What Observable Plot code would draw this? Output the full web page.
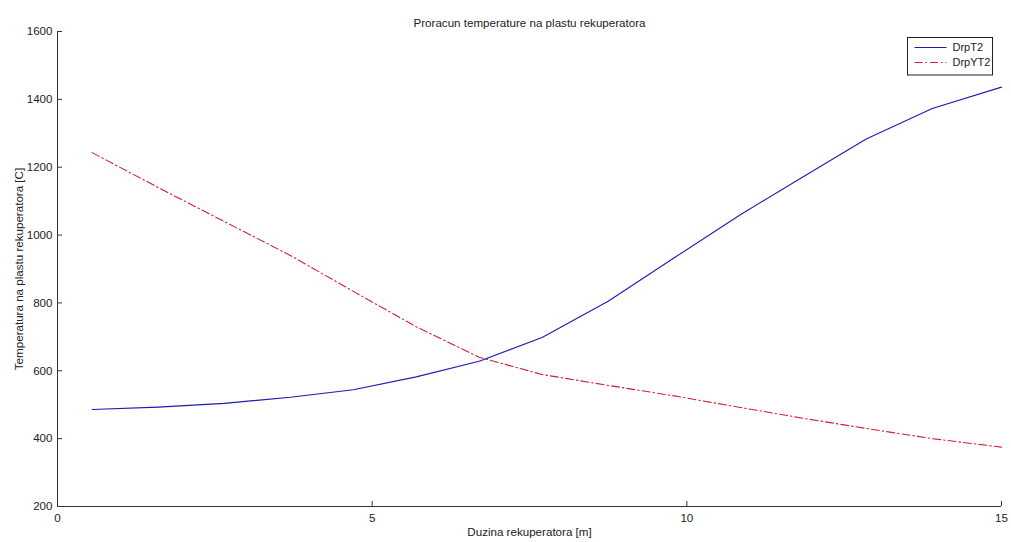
<!DOCTYPE html>
<html>
<head>
<meta charset="utf-8">
<script src="https://cdn.jsdelivr.net/npm/d3@7"></script>
<script src="https://cdn.jsdelivr.net/npm/@observablehq/plot@0.6"></script>
<style>
  html, body { margin: 0; padding: 0; background: #fff; }
  #chart svg { display: block; }
</style>
</head>
<body>
<div id="chart"></div>
<script>
const title = "Proracun temperature na plastu rekuperatora";
const xLabel = "Duzina rekuperatora [m]";
const yLabel = "Temperatura na plastu rekuperatora [C]";
const seriesNames = ["DrpT2", "DrpYT2"];
const xTicks = [0, 5, 10, 15];
const yTicks = [200, 400, 600, 800, 1000, 1200, 1400, 1600];

const lengthM = [0.55, 1.6, 2.65, 3.7, 4.7, 5.7, 6.7, 7.7, 8.75, 9.8, 10.85, 11.85, 12.85, 13.9, 15];
const drpT2   = [486, 493, 504, 522, 544, 582, 628, 698, 805, 933, 1060, 1172, 1283, 1373, 1436];
const drpYT2  = [1243, 1140, 1040, 940, 834, 730, 640, 589, 557, 526, 492, 460, 430, 400, 375];

const colors = ["#1c1cb0", "#d22030"];
const dashes = [null, "8,3,1.5,3"];

const W = 1011, H = 542;
const mL = 57, mR = 10, mT = 31, mB = 36;

const blue = lengthM.map((x, i) => ({x, y: drpT2[i]}));
const red = lengthM.map((x, i) => ({x, y: drpYT2[i]}));

const font = "'Liberation Sans', Arial, Helvetica, sans-serif";
const fs = 11.6;
const fmt = d => String(d);

const plot = Plot.plot({
  width: W,
  height: H,
  marginLeft: mL,
  marginRight: mR,
  marginTop: mT,
  marginBottom: mB,
  style: {fontFamily: font, fontSize: fs + "px", background: "#fff", color: "#222"},
  x: {domain: [0, 15]},
  y: {domain: [200, 1600]},
  marks: [
    Plot.axisX({ticks: xTicks, tickSize: 0, tickPadding: 7, tickFormat: fmt, label: xLabel, labelArrow: "none", labelAnchor: "center", labelOffset: 29, fill: "#222"}),
    Plot.axisY({ticks: yTicks, tickSize: 0, tickPadding: 5, tickFormat: fmt, label: yLabel, labelArrow: "none", labelAnchor: "center", labelOffset: 43, fill: "#222"}),
    Plot.axisX({ticks: xTicks, tickSize: 5, dy: -5, tickFormat: () => "", label: null, stroke: "#333"}),
    Plot.axisY({ticks: yTicks, tickSize: 5, dx: 5, tickFormat: () => "", label: null, stroke: "#333"}),
    Plot.ruleX([0], {stroke: "#333"}),
    Plot.ruleY([200], {stroke: "#333"}),
    Plot.line(red, {x: "x", y: "y", stroke: colors[1], strokeWidth: 1.1, strokeDasharray: dashes[1]}),
    Plot.line(blue, {x: "x", y: "y", stroke: colors[0], strokeWidth: 1.1}),
    Plot.text([title], {frameAnchor: "top", dy: -13, fontSize: fs, fill: "#222"})
  ]
});

document.getElementById("chart").appendChild(plot);

const svg = d3.select(plot);
const lg = svg.append("g").attr("font-family", font).attr("font-size", 11).attr("text-anchor", "start");
const bx = 907.5, by = 37.5, bw = 85, bh = 37.5;
lg.append("rect").attr("x", bx).attr("y", by).attr("width", bw).attr("height", bh)
  .attr("fill", "#fff").attr("stroke", "#222").attr("stroke-width", 1);
seriesNames.forEach((name, i) => {
  const yy = by + 10 + i * 15;
  lg.append("line").attr("x1", bx + 7).attr("x2", bx + 39).attr("y1", yy).attr("y2", yy)
    .attr("stroke", colors[i]).attr("stroke-width", 1.1)
    .attr("stroke-dasharray", dashes[i]);
  lg.append("text").attr("x", bx + 45).attr("y", yy).attr("dy", "0.35em")
    .attr("text-anchor", "start").attr("fill", "#222").text(name);
});
</script>
</body>
</html>
